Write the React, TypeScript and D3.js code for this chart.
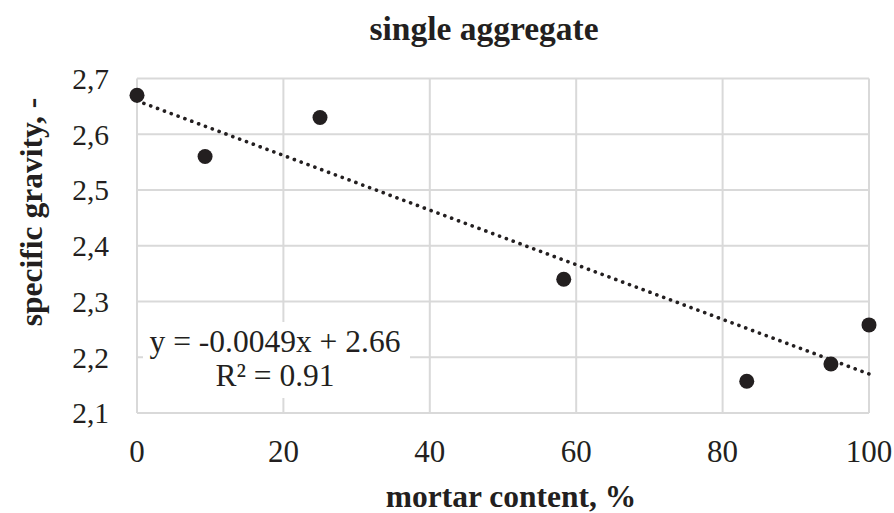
import { useEffect, useRef } from 'react';
import * as d3 from 'd3';

// mortar content, % and specific gravity
const mortarContent = [0, 9.3, 25, 58.3, 83.3, 94.8, 100];
const specificGravity = [2.67, 2.56, 2.63, 2.34, 2.157, 2.188, 2.258];

const xTicks = [0, 20, 40, 60, 80, 100];
const yTicks = [2.1, 2.2, 2.3, 2.4, 2.5, 2.6, 2.7];

// linear trend shown on the chart
const trendSlope = -0.0049;
const trendIntercept = 2.66;
const trendLabel = ['y = -0.0049x + 2.66', 'R² = 0.91'];

const App = () => {
  const svgRef = useRef<SVGSVGElement>(null);

  useEffect(() => {
    if (!svgRef.current) return;
    const svg = d3.select(svgRef.current);
    svg.selectAll('*').remove();

    const width = 894;
    const height = 513;
    const margin = { top: 78.5, right: 25, bottom: 100, left: 137 };
    const font = '"Liberation Serif", "Times New Roman", serif';
    const ink = '#231f20';

    svg.append('rect').attr('width', width).attr('height', height).attr('fill', '#fff');

    const x = d3.scaleLinear().domain([0, 100]).range([margin.left, width - margin.right]);
    const y = d3.scaleLinear().domain([2.1, 2.7]).range([height - margin.bottom, margin.top]);

    // grid
    const grid = svg.append('g').attr('stroke', '#d9d9d9').attr('stroke-width', 2);
    yTicks.forEach(t => {
      grid.append('line')
        .attr('x1', x(0)).attr('x2', x(100))
        .attr('y1', y(t)).attr('y2', y(t));
    });
    xTicks.forEach(t => {
      grid.append('line')
        .attr('x1', x(t)).attr('x2', x(t))
        .attr('y1', y(2.1)).attr('y2', y(2.7));
    });

    // tick labels
    const fmt = (v: number) => d3.format('.1f')(v).replace('.', ',');
    svg.append('g')
      .selectAll('text')
      .data(yTicks)
      .enter()
      .append('text')
      .attr('x', x(0) - 28)
      .attr('y', d => y(d))
      .attr('dy', '0.35em')
      .attr('text-anchor', 'end')
      .attr('font-family', font)
      .attr('font-size', 29.5)
      .attr('fill', ink)
      .text(d => fmt(d));

    svg.append('g')
      .selectAll('text')
      .data(xTicks)
      .enter()
      .append('text')
      .attr('x', d => x(d))
      .attr('y', y(2.1) + 38)
      .attr('dy', '0.35em')
      .attr('text-anchor', 'middle')
      .attr('font-family', font)
      .attr('font-size', 31)
      .attr('fill', ink)
      .text(d => String(d));

    // trendline
    const line = d3.line<number>()
      .x(d => x(d))
      .y(d => y(trendSlope * d + trendIntercept));
    svg.append('path')
      .datum([0, 100])
      .attr('fill', 'none')
      .attr('stroke', ink)
      .attr('stroke-width', 3.6)
      .attr('stroke-linecap', 'round')
      .attr('stroke-dasharray', '0.1 7.2')
      .attr('d', line);

    // points
    svg.append('g')
      .selectAll('circle')
      .data(mortarContent)
      .enter()
      .append('circle')
      .attr('cx', d => x(d))
      .attr('cy', (d, i) => y(specificGravity[i]))
      .attr('r', 7.5)
      .attr('fill', ink);

    // trend label box
    svg.append('rect')
      .attr('x', x(0) + 6)
      .attr('y', 322)
      .attr('width', 267)
      .attr('height', 76)
      .attr('fill', '#fff');
    svg.append('g')
      .selectAll('text')
      .data(trendLabel)
      .enter()
      .append('text')
      .attr('x', 275)
      .attr('y', (d, i) => 341 + i * 34)
      .attr('dy', '0.35em')
      .attr('text-anchor', 'middle')
      .attr('font-family', font)
      .attr('font-size', 31.5)
      .attr('fill', ink)
      .text(d => d);

    // titles
    svg.append('text')
      .attr('x', 484)
      .attr('y', 28)
      .attr('dy', '0.35em')
      .attr('text-anchor', 'middle')
      .attr('font-family', font)
      .attr('font-weight', 'bold')
      .attr('font-size', 33.5)
      .attr('fill', ink)
      .text('single aggregate');

    svg.append('text')
      .attr('x', 511)
      .attr('y', 507)
      .attr('text-anchor', 'middle')
      .attr('font-family', font)
      .attr('font-weight', 'bold')
      .attr('font-size', 31.5)
      .attr('fill', ink)
      .text('mortar content, %');

    svg.append('text')
      .attr('transform', 'translate(31,212) rotate(-90)')
      .attr('dy', '0.35em')
      .attr('text-anchor', 'middle')
      .attr('font-family', font)
      .attr('font-weight', 'bold')
      .attr('font-size', 31.5)
      .attr('fill', ink)
      .text('specific gravity, -');
  }, []);

  return (
    <svg
      ref={svgRef}
      width={894}
      height={513}
      style={{ position: 'absolute', left: 0, top: 0, display: 'block' }}
    />
  );
};

export default App;
